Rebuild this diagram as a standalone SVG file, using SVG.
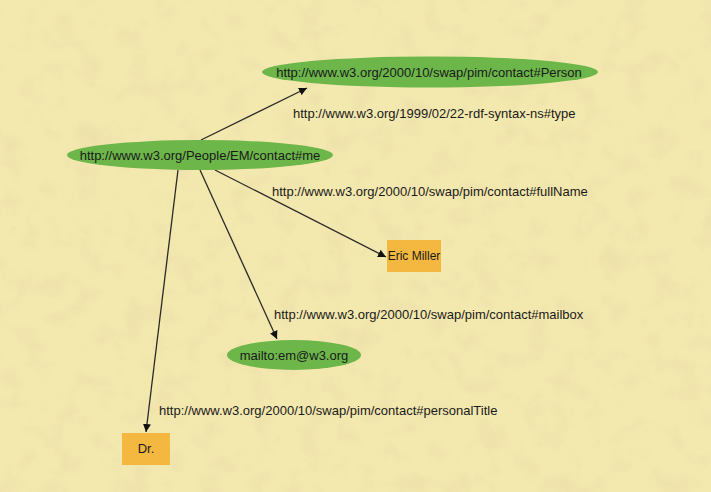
<svg xmlns="http://www.w3.org/2000/svg" width="711" height="492" viewBox="0 0 711 492">
<style>
text{font-family:"Liberation Sans",Arial,sans-serif;font-size:13px;fill:#1a1a1a}
.res{fill:#6cb64a}
.lit{fill:#f4b841}
.edge{stroke:#2a2a2a;stroke-width:1.3;fill:none;marker-end:url(#ah)}
</style>
<defs>
<marker id="ah" viewBox="0 0 10 10" refX="10" refY="5" markerWidth="8" markerHeight="8" markerUnits="userSpaceOnUse" orient="auto">
<path d="M0,0 L10,5 L0,10 z" fill="#111"/>
</marker>
<filter id="tex" x="0" y="0" width="100%" height="100%">
<feTurbulence type="fractalNoise" baseFrequency="0.04" numOctaves="4" seed="3"/>
<feColorMatrix type="matrix" values="0 0 0 0 0.78  0 0 0 0 0.68  0 0 0 0 0.38  0 0 0 -1.8 1.0"/>
</filter>
</defs>
<rect width="711" height="492" fill="#f3e8ae"/>
<rect width="711" height="492" filter="url(#tex)" opacity="0.45"/>
<g id="connectors">
<line class="edge" x1="201" y1="140" x2="307" y2="88"/>
<line class="edge" x1="215" y1="170" x2="386" y2="257"/>
<line class="edge" x1="200" y1="170" x2="277" y2="339"/>
<line class="edge" x1="178" y1="170" x2="146" y2="432"/>
<text x="293" y="118">http://www.w3.org/1999/02/22-rdf-syntax-ns#type</text>
<text x="272" y="195.5">http://www.w3.org/2000/10/swap/pim/contact#fullName</text>
<text x="274" y="319">http://www.w3.org/2000/10/swap/pim/contact#mailbox</text>
<text x="159" y="415">http://www.w3.org/2000/10/swap/pim/contact#personalTitle</text>
</g>
<g id="person">
<ellipse class="res" cx="430" cy="72" rx="168" ry="15.5"/>
<text x="429" y="76.5" text-anchor="middle">http://www.w3.org/2000/10/swap/pim/contact#Person</text>
</g>
<g id="me">
<ellipse class="res" cx="200" cy="155" rx="133" ry="15"/>
<text x="200" y="159.5" text-anchor="middle">http://www.w3.org/People/EM/contact#me</text>
</g>
<g id="ericmiller">
<rect class="lit" x="387" y="240" width="54" height="32"/>
<text x="414" y="260" text-anchor="middle" style="font-size:12px">Eric Miller</text>
</g>
<g id="mailbox">
<ellipse class="res" cx="294" cy="355" rx="67" ry="15"/>
<text x="294" y="359.5" text-anchor="middle">mailto:em@w3.org</text>
</g>
<g id="dr">
<rect class="lit" x="122" y="433" width="48" height="32"/>
<text x="146" y="453" text-anchor="middle">Dr.</text>
</g>
</svg>
